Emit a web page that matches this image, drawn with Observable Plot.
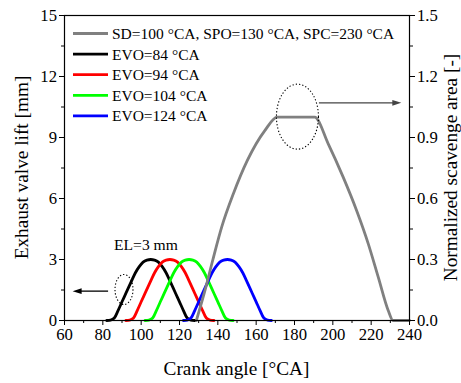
<!DOCTYPE html>
<html><head><meta charset="utf-8">
<script src="https://cdn.jsdelivr.net/npm/d3@7"></script>
<script src="https://cdn.jsdelivr.net/npm/@observablehq/plot@0.6"></script>
<style>
html,body{margin:0;padding:0;background:#fff;}
svg, svg text{font-family:"Liberation Serif","Times New Roman",serif !important;}
</style></head><body><div id="chart"></div>
<script>
// ---- data ----
const scavAngle = [128.8, 133.3, 137.3, 142.0, 148.1, 155.4, 164.6, 171.0, 190.5, 197.6, 205.4, 212.4, 218.5, 223.7, 228.9, 231.4, 240];
const scavArea  = [0, 0.148, 0.295, 0.459, 0.623, 0.787, 0.935, 1.0, 1.0, 0.869, 0.705, 0.541, 0.377, 0.213, 0.049, 0, 0];

const evo84Angle  = [82, 84, 86, 88, 90, 92, 95, 97, 99, 101, 103, 105, 107, 109, 111, 113, 115, 118, 120, 122, 124, 126, 128];
const evo94Angle  = [92, 94, 96, 98, 100, 102, 105, 107, 109, 111, 113, 115, 117, 119, 121, 123, 125, 128, 130, 132, 134, 136, 138];
const evo104Angle = [102, 104, 106, 108, 110, 112, 115, 117, 119, 121, 123, 125, 127, 129, 131, 133, 135, 138, 140, 142, 144, 146, 148];
const evo124Angle = [122, 124, 126, 128, 130, 132, 135, 137, 139, 141, 143, 145, 147, 149, 151, 153, 155, 158, 160, 162, 164, 166, 168];
const evo84Lift   = [0, 0.02, 0.12, 0.5, 0.92, 1.33, 1.95, 2.35, 2.65, 2.87, 2.97, 3.0, 2.97, 2.87, 2.65, 2.35, 1.95, 1.33, 0.92, 0.5, 0.12, 0.02, 0];
const evo94Lift   = [0, 0.02, 0.12, 0.5, 0.92, 1.33, 1.95, 2.35, 2.65, 2.87, 2.97, 3.0, 2.97, 2.87, 2.65, 2.35, 1.95, 1.33, 0.92, 0.5, 0.12, 0.02, 0];
const evo104Lift  = [0, 0.02, 0.12, 0.5, 0.92, 1.33, 1.95, 2.35, 2.65, 2.87, 2.97, 3.0, 2.97, 2.87, 2.65, 2.35, 1.95, 1.33, 0.92, 0.5, 0.12, 0.02, 0];
const evo124Lift  = [0, 0.02, 0.12, 0.5, 0.92, 1.33, 1.95, 2.35, 2.65, 2.87, 2.97, 3.0, 2.97, 2.87, 2.65, 2.35, 1.95, 1.33, 0.92, 0.5, 0.12, 0.02, 0];

const legendLabels = ["SD=100 °CA, SPO=130 °CA, SPC=230 °CA", "EVO=84 °CA", "EVO=94 °CA", "EVO=104 °CA", "EVO=124 °CA"];
const legendColors = ["#808080", "#000000", "#ff0000", "#00ff00", "#0000ff"];

const xMajorTicks = [60, 80, 100, 120, 140, 160, 180, 200, 220, 240];
const xMinorTicks = [70, 90, 110, 130, 150, 170, 190, 210, 230];
const yMajorTicks = [0, 3, 6, 9, 12, 15];
const yMinorTicks = [1.5, 4.5, 7.5, 10.5, 13.5];
const rightTickLabels = ["0.0", "0.3", "0.6", "0.9", "1.2", "1.5"];

const xTitle = "Crank angle [°CA]";
const yLeftTitle = "Exhaust valve lift [mm]";
const yRightTitle = "Normalized scavenge area [-]";

// annotations (data coordinates)
const noteText = "EL=3 mm", noteAngle = 102.5, noteLift = 3.7;
const leftEllipse = {x: 91.3, y: 1.5, rx: 9, ry: 15};
const topEllipse = {x: 181.8, y: 10, rx: 21, ry: 32.5};
const leftArrow = {x1: 83, y1: 1.42, x2: 64.5, y2: 1.42};
const topArrow = {x1: 193, y1: 10.68, x2: 236, y2: 10.68};

// ---- build ----
const toRows = (xs, ys) => xs.map((x, i) => ({x, y: ys[i]}));
const scavRows = scavAngle.map((x, i) => ({x, y: scavArea[i] * 10}));
const lifts = [
  {rows: toRows(evo84Angle, evo84Lift), color: legendColors[1]},
  {rows: toRows(evo94Angle, evo94Lift), color: legendColors[2]},
  {rows: toRows(evo104Angle, evo104Lift), color: legendColors[3]},
  {rows: toRows(evo124Angle, evo124Lift), color: legendColors[4]}
];
const svgNS = "http://www.w3.org/2000/svg";
function el(name, attrs) {
  const e = document.createElementNS(svgNS, name);
  for (const k in attrs) e.setAttribute(k, attrs[k]);
  return e;
}
function ellipseMark(e) {
  return (index, scales) => el("ellipse", {
    cx: scales.x(e.x), cy: scales.y(e.y), rx: e.rx, ry: e.ry,
    fill: "none", stroke: "#000", "stroke-width": 1.1, "stroke-dasharray": "1.3,2"
  });
}
function legendMark(index, scales, values, dims) {
  const g = el("g", {});
  legendLabels.forEach((lab, i) => {
    const y = dims.marginTop + 18.5 + i * 20.6;
    g.appendChild(el("line", {x1: dims.marginLeft + 9, x2: dims.marginLeft + 44, y1: y, y2: y, stroke: legendColors[i], "stroke-width": 2.8}));
    const t = el("text", {x: dims.marginLeft + 48, y, dy: "0.35em", "font-size": 15.5, fill: "#000", "text-anchor": "start"});
    t.textContent = lab;
    g.appendChild(t);
  });
  return g;
}
function titlesMark(index, scales, values, dims) {
  const g = el("g", {"font-size": 19.3, fill: "#000"});
  const cy = dims.marginTop + (dims.height - dims.marginTop - dims.marginBottom) / 2;
  const cx = dims.marginLeft + (dims.width - dims.marginLeft - dims.marginRight) / 2;
  const t1 = el("text", {x: cx, y: dims.height - 8, "text-anchor": "middle"}); t1.textContent = xTitle; g.appendChild(t1);
  const t2 = el("text", {transform: `translate(${27.5},${cy}) rotate(-90)`, "text-anchor": "middle"}); t2.textContent = yLeftTitle; g.appendChild(t2);
  const t3 = el("text", {transform: `translate(${dims.width - 4.5},${cy}) rotate(-90)`, "text-anchor": "middle"}); t3.textContent = yRightTitle; g.appendChild(t3);
  return g;
}
function arrowMark(a, color) {
  return (index, scales) => {
    const g = el("g", {});
    const x1 = scales.x(a.x1), y1 = scales.y(a.y1), x2 = scales.x(a.x2), y2 = scales.y(a.y2);
    const dir = Math.sign(x2 - x1);
    g.appendChild(el("line", {x1, y1, x2: x2 - dir * 6, y2, stroke: color, "stroke-width": 1.3}));
    g.appendChild(el("path", {d: `M${x2},${y2}L${x2 - dir * 9},${y2 - 2.8}L${x2 - dir * 9},${y2 + 2.8}Z`, fill: color}));
    return g;
  };
}
const noLabel = () => "";

const chart = Plot.plot({
  width: 461,
  height: 383,
  marginLeft: 64,
  marginRight: 52,
  marginTop: 15,
  marginBottom: 63,
  style: {fontFamily: '"Liberation Serif","Times New Roman",serif', background: "#fff", overflow: "visible"},
  x: {domain: [60, 240]},
  y: {domain: [0, 15]},
  marks: [
    ...lifts.map(s => Plot.line(s.rows, {x: "x", y: "y", stroke: s.color, strokeWidth: 2.8, curve: "monotone-x"})),
    Plot.line(scavRows, {x: "x", y: "y", stroke: "#808080", strokeWidth: 2.8, curve: "monotone-x"}),
    Plot.text([noteText], {x: noteAngle, y: noteLift, text: d => d, fontSize: 15.6, fill: "#000"}),
    ellipseMark(leftEllipse),
    ellipseMark(topEllipse),
    arrowMark(leftArrow, "#000"),
    arrowMark(topArrow, "#444"),
    legendMark,
    Plot.axisX({ticks: xMajorTicks, tickSize: 5, tickPadding: 3, fontSize: 16.7, label: null}),
    Plot.axisX({ticks: xMinorTicks, tickSize: 3, tickFormat: noLabel, label: null}),
    Plot.axisY({ticks: yMajorTicks, tickSize: 5, tickPadding: 2.5, fontSize: 16.7, label: null}),
    Plot.axisY({ticks: yMinorTicks, tickSize: 3, tickFormat: noLabel, label: null}),
    Plot.axisY({anchor: "right", ticks: yMajorTicks, tickSize: 5, tickPadding: 2.5, fontSize: 16.7, tickFormat: (d, i) => rightTickLabels[i], label: null}),
    Plot.axisY({anchor: "right", ticks: yMinorTicks, tickSize: 3, tickFormat: noLabel, label: null}),
    Plot.frame({stroke: "#000", strokeWidth: 1.2}),
    titlesMark
  ]
});
document.getElementById("chart").appendChild(chart);
</script></body></html>
